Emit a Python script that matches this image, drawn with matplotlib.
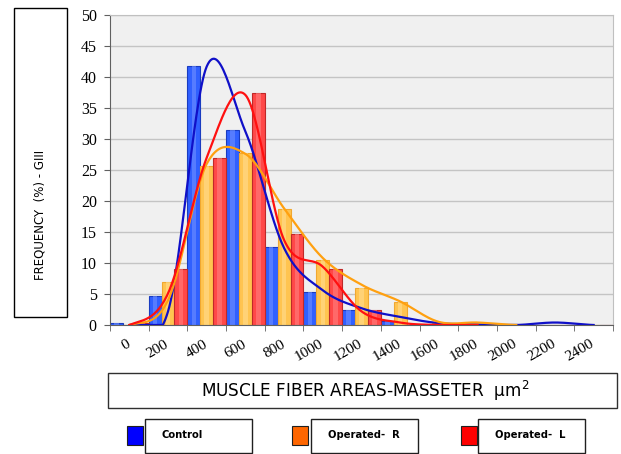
import matplotlib
matplotlib.use("Agg")
import matplotlib.pyplot as plt
from matplotlib.patches import Rectangle
import numpy as np

# data
categories = ["0", "200", "400", "600", "800", "1000", "1200", "1400",
              "1600", "1800", "2000", "2200", "2400"]
control = [0.4, 4.7, 41.7, 31.4, 12.6, 5.3, 2.4, 0.7, 0, 0, 0, 0, 0]
operated_r = [0, 7.0, 25.6, 27.7, 18.7, 10.5, 6.0, 3.7, 0.4, 0.2, 0, 0, 0]
operated_l = [0.4, 9.0, 27.0, 37.4, 14.7, 9.0, 2.4, 0, 0, 0, 0, 0, 0]

# smoothed trend lines (values at the category centres)
control_fit = [0, 2.2, 41.7, 31.2, 12.4, 5.6, 2.7, 1.3, 0.3, 0.1, 0, 0.4, 0]
operated_r_fit = [0, 4.0, 26.0, 27.6, 18.8, 10.8, 6.5, 3.8, 0.5, 0.4, 0]
operated_l_fit = [0, 5.1, 27.0, 37.1, 13.7, 9.4, 2.2, 0.4, 0, 0]

W, H = 621, 454


def fx(px):
    return px / W


def fy(py):
    return 1 - py / H


def catmull(y, n=30):
    # Excel-like smoothed line
    y = np.asarray(y, float)
    p = np.concatenate([[y[0]], y, [y[-1]]])
    xs, ys = [], []
    for i in range(len(y) - 1):
        t = np.linspace(0, 1, n, endpoint=False)
        p0, p1, p2, p3 = p[i], p[i + 1], p[i + 2], p[i + 3]
        m1 = (p2 - p0) / 2
        m2 = (p3 - p1) / 2
        h = ((2*t**3 - 3*t**2 + 1)*p1 + (t**3 - 2*t**2 + t)*m1
             + (-2*t**3 + 3*t**2)*p2 + (t**3 - t**2)*m2)
        xs.append(i + t)
        ys.append(h)
    xs.append([len(y) - 1])
    ys.append([y[-1]])
    return np.concatenate(xs), np.concatenate(ys)


fig = plt.figure(figsize=(6.21, 4.54), dpi=100)
ax = fig.add_axes([fx(110), fy(325), fx(613) - fx(110), fy(15) - fy(325)])
ax.set_facecolor("#F0F0F0")

x = np.arange(len(categories))
bw = 1 / 3
series = [
    (control, -bw, "#3060FF", "#1a3cc0", "#7090FF"),
    (operated_r, 0, "#FFC450", "#F0A830", "#FFDC90"),
    (operated_l, bw, "#FF4848", "#C02828", "#FF8080"),
]
for vals, off, fc, ec, hc in series:
    ax.bar(x + off, vals, bw, color=fc, edgecolor=ec, linewidth=0.8, zorder=2)
    ax.bar(x + off, vals, bw * 0.35, color=hc, linewidth=0, alpha=0.6, zorder=2)

for fit, col in [(control_fit, "#1010C8"), (operated_r_fit, "#FFA010"),
                 (operated_l_fit, "#FF1010")]:
    cx, cy = catmull(fit)
    ax.plot(cx, np.clip(cy, 0, None), color=col, lw=1.6, zorder=3)

ax.set_xlim(-0.5, 12.5)
ax.set_ylim(0, 50)
ax.set_yticks(np.arange(0, 51, 5))
ax.yaxis.grid(True, color="#C4C4C4", lw=1)
ax.set_axisbelow(True)

# labels sit a touch right of the category centre, like the original
ax.set_xticks(x + 0.08)
ax.set_xticklabels(categories, rotation=30, ha="right", va="top",
                   family="Liberation Serif", fontsize=11)
ax.set_xticks(np.arange(-0.5, 13, 1), minor=True)
ax.tick_params(axis="x", which="major", length=0, pad=9)
ax.tick_params(axis="x", which="minor", length=4, color="#606060")
ax.tick_params(axis="y", length=4.5, color="#606060", pad=5)
for lab in ax.get_yticklabels():
    lab.set_family("Liberation Serif")
    lab.set_fontsize(11.5)

for s in ["top", "right"]:
    ax.spines[s].set_color("#C0C0C0")
for s in ["left", "bottom"]:
    ax.spines[s].set_color("#606060")

# y label box
fig.patches.append(Rectangle((fx(14), fy(317)), fx(67) - fx(14), fy(8) - fy(317),
                             transform=fig.transFigure, fill=False, ec="black", lw=1))
fig.text(fx(40), fy(215), "FREQUENCY  (%) - GIII", rotation=90, ha="center",
         va="center", fontsize=8.5, family="DejaVu Sans")

# x label box
fig.patches.append(Rectangle((fx(108), fy(408)), fx(617) - fx(108), fy(373) - fy(408),
                             transform=fig.transFigure, fill=False, ec="#303030", lw=1))
fig.text(fx(365), fy(391), "MUSCLE FIBER AREAS-MASSETER  µm$^2$", ha="center",
         va="center", fontsize=12.2, family="DejaVu Sans")

# legend
legend_items = [("Control", "#0000FF", 127, 145, 252),
                ("Operated-  R", "#FF6600", 292, 311, 418),
                ("Operated-  L", "#FF0000", 461, 478, 585)]
for name, col, sq, bx0, bx1 in legend_items:
    fig.patches.append(Rectangle((fx(sq), fy(445)), fx(16), 19 / H,
                                 transform=fig.transFigure, fc=col, ec="#202020", lw=0.8))
    fig.patches.append(Rectangle((fx(bx0), fy(453)), fx(bx1) - fx(bx0), 34 / H,
                                 transform=fig.transFigure, fill=False, ec="#202020", lw=1))
    fig.text(fx(bx0 + 17), fy(435), name, ha="left", va="center", fontsize=7.2,
             fontweight="bold", family="DejaVu Sans")

fig.savefig("out.png", dpi=100)
